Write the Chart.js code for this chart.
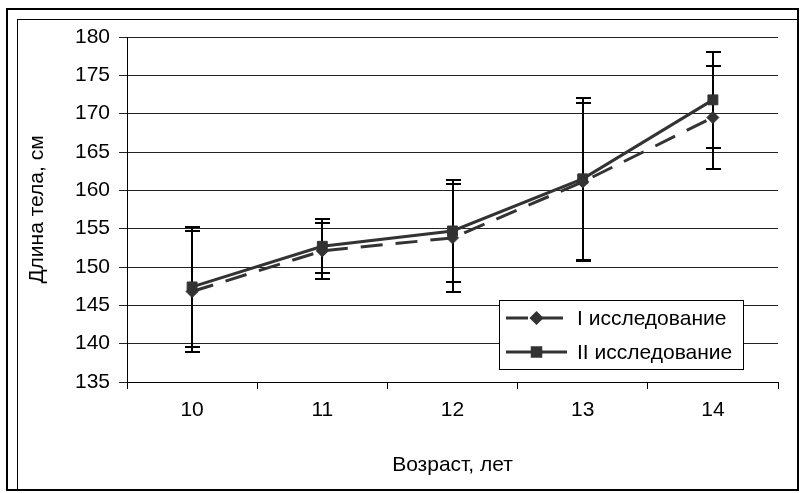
<!DOCTYPE html>
<html>
<head>
<meta charset="utf-8">
<script src="https://cdn.jsdelivr.net/npm/chart.js@4/dist/chart.umd.min.js"></script>
<style>
  html, body { margin: 0; padding: 0; background: #fff; }
  #wrap { width: 805px; height: 493px; }
</style>
</head>
<body>
<div id="wrap"><canvas id="c" width="805" height="493"></canvas></div>
<script>
// Age groups (years)
const ages = ['10', '11', '12', '13', '14'];
// Mean body length, cm
const studyI  = [146.8, 152.1, 153.8, 161.1, 169.5];
const studyII = [147.4, 152.7, 154.7, 161.5, 171.8];
// Standard deviation, cm
const errI  = [7.9, 3.6, 7.0, 10.3, 6.7];
const errII = [7.8, 3.5, 6.6, 10.6, 6.3];
// Y axis range
const yMin = 135, yMax = 180, yStep = 5;

const seriesNames = ['I исследование', 'II исследование'];
const FONT = "'Liberation Sans', Arial, sans-serif";
const FONT_SIZE = 21;
const INK = '#333333';

// White page with the double frame around the chart
const framePlugin = {
  id: 'frame',
  beforeDraw(chart) {
    const ctx = chart.ctx;
    ctx.save();
    ctx.fillStyle = '#fff';
    ctx.fillRect(0, 0, chart.width, chart.height);
    ctx.strokeStyle = '#000';
    ctx.lineWidth = 2;
    ctx.strokeRect(7, 9, chart.width - 14, chart.height - 12);
    ctx.lineWidth = 1;
    ctx.strokeRect(17.5, 19.5, chart.width - 25, chart.height - 22);
    ctx.restore();
  }
};

// Vertical error bars (mean ± SD) for each series
const errorBarPlugin = {
  id: 'errorBars',
  beforeDatasetsDraw(chart) {
    const ctx = chart.ctx;
    const y = chart.scales.y;
    const errs = [errI, errII];
    ctx.save();
    ctx.strokeStyle = '#000';
    ctx.lineWidth = 2;
    chart.data.datasets.forEach((ds, di) => {
      const meta = chart.getDatasetMeta(di);
      meta.data.forEach((pt, i) => {
        const v = ds.data[i], e = errs[di][i];
        const x = Math.round(pt.x);
        const yt = Math.round(y.getPixelForValue(v + e));
        const yb = Math.round(y.getPixelForValue(v - e));
        ctx.beginPath();
        ctx.moveTo(x, yt); ctx.lineTo(x, yb);
        ctx.moveTo(x - 7, yt); ctx.lineTo(x + 8, yt);
        ctx.moveTo(x - 7, yb); ctx.lineTo(x + 8, yb);
        ctx.stroke();
      });
    });
    ctx.restore();
  }
};

// Boxed legend inside the plot area, lower right
const boxLegendPlugin = {
  id: 'boxLegend',
  afterDatasetsDraw(chart) {
    const ctx = chart.ctx;
    const a = chart.chartArea;
    const bx = a.right - 279, by = a.bottom - 82, bw = 244, bh = 69;
    ctx.save();
    ctx.fillStyle = '#fff';
    ctx.fillRect(bx, by, bw, bh);
    ctx.strokeStyle = '#000';
    ctx.lineWidth = 1;
    ctx.strokeRect(bx + 0.5, by + 0.5, bw, bh);
    chart.data.datasets.forEach((ds, i) => {
      const cy = by + 18 + i * 34;
      const x0 = bx + 7, x1 = bx + 68;
      ctx.strokeStyle = ds.borderColor;
      ctx.lineWidth = ds.borderWidth;
      ctx.setLineDash(ds.borderDash || []);
      ctx.beginPath();
      ctx.moveTo(x0, cy); ctx.lineTo(x1, cy);
      ctx.stroke();
      ctx.setLineDash([]);
      ctx.fillStyle = ds.pointBackgroundColor;
      ctx.strokeStyle = ds.pointBorderColor;
      Chart.helpers.drawPoint(ctx, {
        pointStyle: ds.pointStyle, radius: ds.pointRadius - 1, borderWidth: 1
      }, (x0 + x1) / 2, cy);
      ctx.fillStyle = '#000';
      ctx.font = FONT_SIZE + 'px ' + FONT;
      ctx.textBaseline = 'middle';
      ctx.textAlign = 'left';
      ctx.fillText(ds.label, bx + 78, cy + 1);
    });
    ctx.restore();
  }
};

new Chart(document.getElementById('c'), {
  type: 'line',
  data: {
    labels: ages,
    datasets: [
      {
        label: seriesNames[0],
        data: studyI,
        borderColor: INK,
        borderWidth: 3,
        borderDash: [22, 13],
        pointStyle: 'rectRot',
        pointRadius: 6,
        pointBackgroundColor: INK,
        pointBorderColor: INK,
        pointBorderWidth: 1,
        tension: 0
      },
      {
        label: seriesNames[1],
        data: studyII,
        borderColor: INK,
        borderWidth: 3,
        pointStyle: 'rect',
        pointRadius: 7,
        pointBackgroundColor: INK,
        pointBorderColor: INK,
        pointBorderWidth: 1,
        tension: 0
      }
    ]
  },
  options: {
    responsive: false,
    devicePixelRatio: 1,
    animation: false,
    layout: { padding: { left: 17, top: 37, right: 27, bottom: 10 } },
    plugins: {
      legend: { display: false },
      tooltip: { enabled: false }
    },
    scales: {
      x: {
        offset: true,
        grid: {
          display: true,
          offset: true,
          drawOnChartArea: false,
          drawTicks: true,
          tickLength: 7,
          color: '#000',
          lineWidth: 1
        },
        border: { display: true, color: '#000', width: 1 },
        ticks: { color: '#000', font: { family: FONT, size: FONT_SIZE }, padding: 9, maxRotation: 0 },
        title: {
          display: true,
          text: 'Возраст, лет',
          color: '#000',
          font: { family: FONT, size: FONT_SIZE },
          padding: { top: 5, bottom: 5 }
        },
        afterFit(scale) { scale.height = 101; }
      },
      y: {
        min: yMin,
        max: yMax,
        grid: { color: '#222', lineWidth: 1, tickLength: 8, drawTicks: true },
        border: { display: true, color: '#000', width: 1 },
        ticks: { stepSize: yStep, color: '#000', font: { family: FONT, size: FONT_SIZE }, padding: 9 },
        title: {
          display: true,
          text: 'Длина тела, см',
          color: '#000',
          font: { family: FONT, size: FONT_SIZE },
          padding: { top: 8, bottom: 4 }
        },
        afterFit(scale) { scale.width = 110; }
      }
    }
  },
  plugins: [framePlugin, errorBarPlugin, boxLegendPlugin]
});
</script>
</body>
</html>
